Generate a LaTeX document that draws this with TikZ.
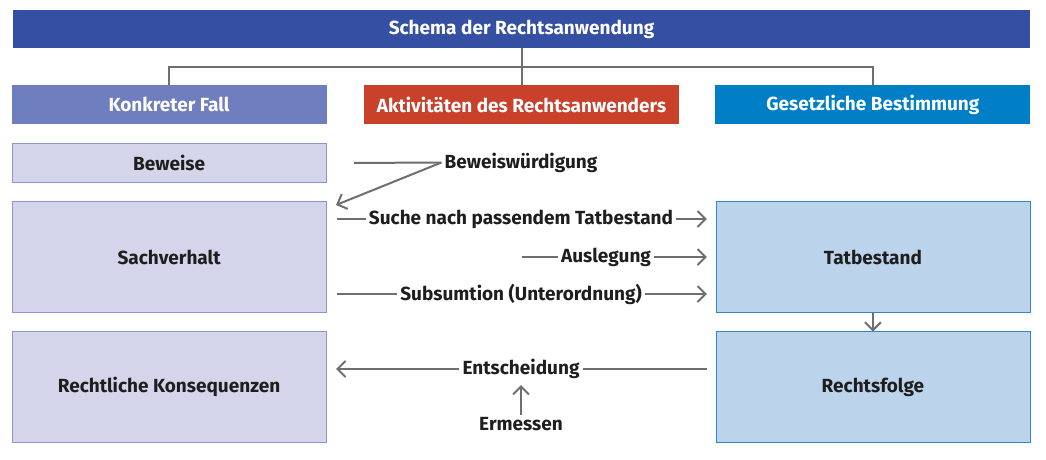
\documentclass[tikz,border=0pt]{standalone}
\usepackage{fontspec}
\setmainfont{Fira Sans}
\usetikzlibrary{arrows.meta, positioning, calc}
\usepackage{xcolor}
\definecolor{titel}{RGB}{53,80,163}
\definecolor{fallkopf}{RGB}{111,126,190}
\definecolor{aktkopf}{RGB}{201,64,43}
\definecolor{gesetzkopf}{RGB}{0,126,198}
\definecolor{fall}{RGB}{212,213,234}
\definecolor{fallrand}{RGB}{142,150,208}
\definecolor{gesetz}{RGB}{188,211,236}
\definecolor{gesetzrand}{RGB}{45,137,204}
\definecolor{linie}{RGB}{110,110,110}
\definecolor{schrift}{RGB}{30,30,30}

\begin{document}
\begin{tikzpicture}[
          x=1pt, y=-1pt,
          node distance=19pt,
          kopf/.style={rectangle, minimum width=315pt, minimum height=39pt, inner sep=0pt,
                       font=\fontsize{19}{22}\selectfont\bfseries, text=white},
          box/.style={rectangle, draw=fallrand, fill=fall, line width=0.8pt, outer sep=0pt,
                      minimum width=314pt, minimum height=39pt, inner sep=0pt,
                      font=\fontsize{19}{22}\selectfont\bfseries, text=schrift},
          tbox/.style={box, draw=gesetzrand, fill=gesetz, minimum height=111pt},
          lbl/.style={font=\fontsize{19}{22}\selectfont\bfseries, text=schrift, inner sep=3pt},
          line/.style={draw=linie, line width=2pt},
          arr/.style={line, -{Straight Barb[length=8pt, width=16pt]}}
        ]
        \useasboundingbox (0,0) rectangle (1046,459);
        % Kopfzeilen
        \node[kopf, fill=titel, minimum width=1017pt, minimum height=38pt] (titel) at (521.5,29) {Schema der Rechtsanwendung};
        \node[kopf, fill=aktkopf, below=37pt of titel] (akt) {Aktivitäten des Rechtsanwenders};
        \node[kopf, fill=fallkopf, left=37pt of akt] (fallk) {Konkreter Fall};
        \node[kopf, fill=gesetzkopf, right=36pt of akt] (gesk) {Gesetzliche Bestimmung};
        \coordinate (knoten) at ($(titel.south)!0.5!(akt.north)$);
        \draw[line] (titel.south) -- (akt.north);
        \draw[line] (fallk.north) |- (knoten) -| (gesk.north);
        % Kaesten
        \node[box, below=19pt of fallk] (bew) {Beweise};
        \node[box, below=19pt of bew, minimum height=111pt] (sv) {Sachverhalt};
        \node[box, below=19pt of sv, minimum height=111pt] (rk) {Rechtliche Konsequenzen};
        \node[tbox] (tb) at (gesk |- sv) {Tatbestand};
        \node[tbox] (rf) at (gesk |- rk) {Rechtsfolge};
        \draw[arr] (tb.south) -- (rf.north);
        % Taetigkeiten
        \node[lbl] (bw) at (521,162.5) {Beweiswürdigung};
        \node[lbl] (such) at (521,219) {Suche nach passendem Tatbestand};
        \node[lbl] (ausl) at (606,257) {Auslegung};
        \node[lbl] (subs) at (521,294) {Subsumtion (Unterordnung)};
        \node[lbl] (ents) at (521,369) {Entscheidung};
        \node[lbl] (erm) at (521,424.5) {Ermessen};
        \coordinate (bwziel) at (336,205);
        \draw[line, shorten <=28pt] (bew.east) -- (bw.west);
        \draw[arr] (bw.west) -- (bwziel);
        \draw[line, shorten <=11pt] (sv.east |- such) -- (such.west);
        \draw[arr, shorten >=9pt] (such.east) -- (tb.west |- such);
        \draw[line] (akt |- ausl) -- (ausl.west);
        \draw[arr, shorten >=9pt] (ausl.east) -- (tb.west |- ausl);
        \draw[line, shorten <=11pt] (sv.east |- subs) -- (subs.west);
        \draw[arr, shorten >=9pt] (subs.east) -- (tb.west |- subs);
        \draw[line, shorten <=9pt] (rf.west |- ents) -- (ents.east);
        \draw[arr, shorten >=10pt] (ents.west) -- (rk.east |- ents);
        \draw[arr, shorten >=3pt] (erm.north) -- (ents.south);
      \end{tikzpicture}
\end{document}
